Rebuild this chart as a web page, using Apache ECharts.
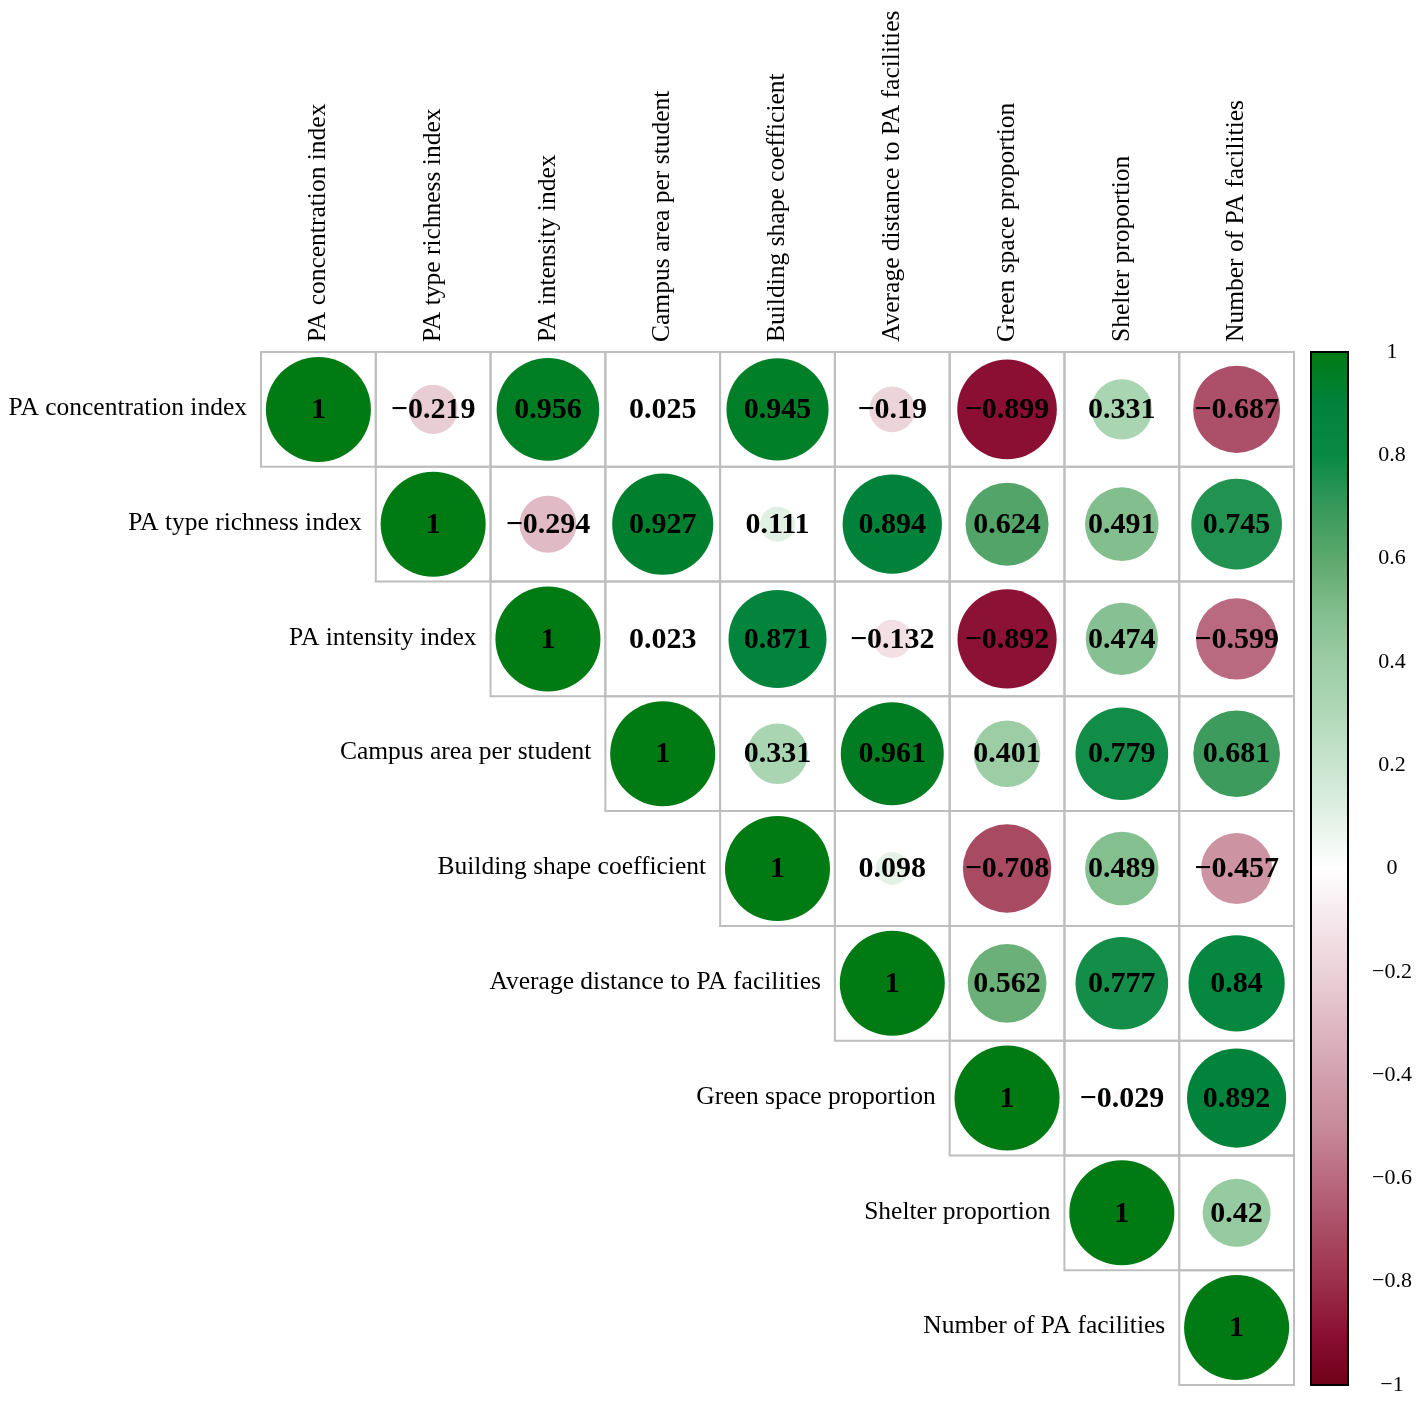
<!DOCTYPE html>
<html>
<head>
<meta charset="utf-8">
<script src="https://cdn.jsdelivr.net/npm/echarts@6/dist/echarts.min.js"></script>
<style>html,body{margin:0;padding:0;background:#fff}#c{width:1417px;height:1406px}</style>
</head>
<body>
<div id="c"></div>
<script>
var variables = ["PA concentration index","PA type richness index","PA intensity index","Campus area per student","Building shape coefficient","Average distance to PA facilities","Green space proportion","Shelter proportion","Number of PA facilities"];
// upper-triangle rows, starting at the diagonal
var row0 = [1, -0.219, 0.956, 0.025, 0.945, -0.19, -0.899, 0.331, -0.687];
var row1 = [1, -0.294, 0.927, 0.111, 0.894, 0.624, 0.491, 0.745];
var row2 = [1, 0.023, 0.871, -0.132, -0.892, 0.474, -0.599];
var row3 = [1, 0.331, 0.961, 0.401, 0.779, 0.681];
var row4 = [1, 0.098, -0.708, 0.489, -0.457];
var row5 = [1, 0.562, 0.777, 0.84];
var row6 = [1, -0.029, 0.892];
var row7 = [1, 0.42];
var row8 = [1];
var rows = [row0,row1,row2,row3,row4,row5,row6,row7,row8];
// palette from -1 to 1, step 0.1
var palette = ["#700018","#8A0F33","#9C3049","#A94C64","#BA6A80","#C78A9A","#D3A0AF","#DFB9C4","#EBD2D9","#F5E7EB","#FFFFFF","#E3F1E6","#C8E4CE","#B0D8B8","#9CCDA5","#80BD8C","#5CA86C","#36985A","#088A42","#00823A","#007A12"];

var cells = [];
rows.forEach(function(r, i){ r.forEach(function(v, k){ cells.push([i+k, i, v]); }); });

function fmt(v){ return String(v).replace('-', '\u2212'); }
var SERIF = '"Liberation Serif", "Times New Roman", serif';

var chart = echarts.init(document.getElementById('c'), null, {renderer:'canvas'});
chart.setOption({
  backgroundColor: '#fff',
  animation: false,
  grid: [
    {left: 261, top: 352, width: 1033, height: 1033},
    {left: 1311, top: 352, width: 37, height: 1033}
  ],
  xAxis: [
    {gridIndex:0, type:'category', data: variables, position:'top',
     axisLine:{show:false}, axisTick:{show:false}, splitLine:{show:false},
     axisLabel:{rotate:-90, margin:10, fontFamily:SERIF, fontSize:25.5, color:'#000', interval:0}},
    {gridIndex:1, type:'value', min:0, max:1, show:false}
  ],
  yAxis: [
    {gridIndex:0, type:'category', data: variables, inverse:true, show:false},
    {gridIndex:1, type:'value', min:-1, max:1, interval:0.2, position:'right',
     axisLine:{show:true, lineStyle:{color:'#000', width:2}}, splitLine:{show:false},
     axisTick:{show:true, inside:false, length:8, lineStyle:{color:'#000', width:1.5}},
     axisLabel:{margin:44, align:'center', fontFamily:SERIF, fontSize:22, color:'#000',
       formatter:function(v){ return fmt(Math.round(v*10)/10); }}}
  ],
  visualMap: {type:'continuous', min:-1, max:1, dimension:2, seriesIndex:0, show:false,
    inRange:{color: palette}},
  series: [
    {type:'custom', xAxisIndex:0, yAxisIndex:0, data: cells,
     renderItem: function(params, api){
       var j = api.value(0), i = api.value(1), v = api.value(2);
       var c = api.coord([j, i]);
       var s = api.size([1, 1]);
       var R = Math.sqrt(Math.abs(v)) * s[0] / 2 * 0.915;
       var children = [
         {type:'rect', shape:{x:c[0]-s[0]/2, y:c[1]-s[1]/2, width:s[0], height:s[1]},
          style:{fill:'none', stroke:'#BEBEBE', lineWidth:2}},
         {type:'circle', shape:{cx:c[0], cy:c[1], r:R}, style:{fill: api.visual('color')}},
         {type:'text', style:{text: fmt(v), x:c[0], y:c[1]+1, align:'center', verticalAlign:'middle',
          font:'bold 30px ' + SERIF, fill:'#000'}}
       ];
       if (i === j) {
         children.push({type:'text', style:{text: variables[i], x:c[0]-s[0]/2-14, y:c[1]-1,
           align:'right', verticalAlign:'middle', font:'25.5px ' + SERIF, fill:'#000'}});
       }
       return {type:'group', children: children};
     }},
    {type:'custom', xAxisIndex:1, yAxisIndex:1, data: [[0, -1, 1, 1]], z: 1,
     renderItem: function(params, api){
       var p0 = api.coord([api.value(0), api.value(3)]);
       var p1 = api.coord([api.value(2), api.value(1)]);
       var stops = palette.map(function(col, k){ return {offset: 1 - k/(palette.length-1), color: col}; }).reverse();
       return {type:'rect', shape:{x:p0[0], y:p0[1], width:p1[0]-p0[0], height:p1[1]-p0[1]},
         style:{fill: new echarts.graphic.LinearGradient(0,0,0,1, stops), stroke:'#000', lineWidth:2}};
     }}
  ]
});
</script>
</body>
</html>
